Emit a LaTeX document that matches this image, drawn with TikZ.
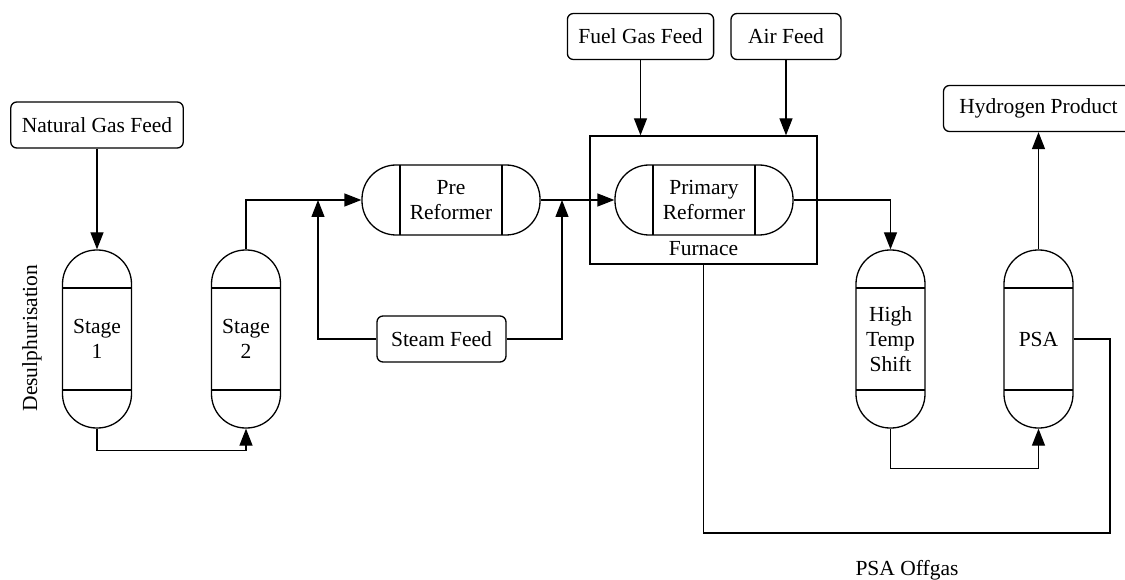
\documentclass[tikz,border=0pt]{standalone}
\usepackage{fontspec}
\setmainfont{Liberation Serif}
\usetikzlibrary{arrows.meta}

\tikzset{
  feed/.style={draw, rounded corners=6pt, minimum height=46pt, inner xsep=11pt},
  vvessel/.style={draw, rounded corners=34pt, minimum width=69pt, minimum height=178pt,
    align=center, inner sep=0pt,
    path picture={
      \draw[line width=1.3pt] ([yshift=-38pt]path picture bounding box.north west) -- ([yshift=-38pt]path picture bounding box.north east);
      \draw[line width=1.3pt] ([yshift=38pt]path picture bounding box.south west) -- ([yshift=38pt]path picture bounding box.south east);
    }},
  hvessel/.style={draw, rounded corners=34pt, minimum width=178pt, minimum height=70pt,
    align=center, inner sep=0pt,
    path picture={
      \draw[line width=1.3pt] ([xshift=38pt]path picture bounding box.north west) -- ([xshift=38pt]path picture bounding box.south west);
      \draw[line width=1.3pt] ([xshift=-38pt]path picture bounding box.north east) -- ([xshift=-38pt]path picture bounding box.south east);
    }},
  flow/.style={-{Triangle[length=17pt,width=13pt]}},
}

\begin{document}
\begin{tikzpicture}[x=1pt, y=-1pt, line width=1.3pt, font=\fontsize{21.5}{25}\selectfont]
  \useasboundingbox (0,0) rectangle (1125,580);

  % Feeds and product
  \node[feed] (natgas) at (97,125) {Natural Gas Feed};
  \node[feed, minimum width=145pt] (fuelgas) at (640.5,36.5) {Fuel Gas Feed};
  \node[feed, minimum width=110pt] (air) at (786,36.5) {Air Feed};
  \node[feed, minimum width=129pt] (steam) at (441.5,339) {Steam Feed};
  \node[feed, minimum width=190pt] (hydrogen) at (1038.5,108.5) {Hydrogen Product};

  % Desulphurisation
  \node[vvessel] (stage1) at (97,339) {Stage\\1};
  \node[vvessel] (stage2) at (246,339) {Stage\\2};
  \node[rotate=90] (desulph) at (32,338) {Desulphurisation};

  % Reformers
  \node[hvessel] (prereform) at (451,200) {Pre\\Reformer};
  \node[draw, minimum width=227pt, minimum height=128pt] (furnace) at (703.5,200) {};
  \node[hvessel] (primreform) at (704,200) {Primary\\Reformer};
  \node (furnacelbl) at (703.5,249) {Furnace};

  % Shift and PSA
  \node[vvessel] (hts) at (890.5,339) {High\\Temp\\Shift};
  \node[vvessel] (psa) at (1038.5,339) {PSA};
  \node (offgas) at (907,570) {PSA Offgas};

  % Junctions
  \coordinate (steamin1) at (318,200);
  \coordinate (steamin2) at (562,200);
  \coordinate (offgasturn) at (1110,533);

  % Streams
  \draw[flow] (natgas.south) -- (stage1.north);
  \draw[flow] (stage1.south) -- ++(0,22) -| (stage2.south);
  \draw[flow] (stage2.north) |- (prereform.west);
  \draw[flow] (steam.west) -| (steamin1);
  \draw[flow] (steam.east) -| (steamin2);
  \draw[flow] (prereform.east) -- (primreform.west);
  \draw[flow] (fuelgas.south) -- (fuelgas.south |- furnace.north);
  \draw[flow] (air.south) -- (air.south |- furnace.north);
  \draw[flow] (primreform.east) -| (hts.north);
  \draw[flow] (hts.south) -- ++(0,40) -| (psa.south);
  \draw[flow] (psa.north) -- (hydrogen.south);
  \draw (psa.east) -| (offgasturn) -| (furnace.south);
\end{tikzpicture}
\end{document}
